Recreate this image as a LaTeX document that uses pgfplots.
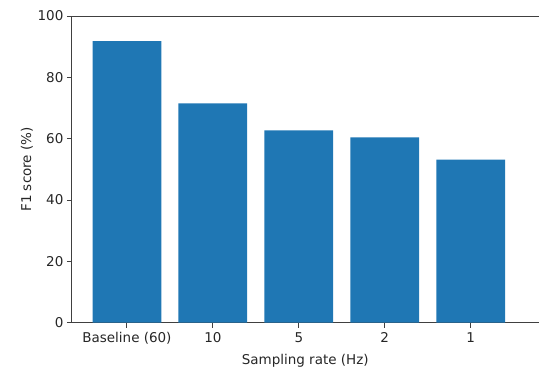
\documentclass[border=0pt]{standalone}
\usepackage{pgfplots}
\pgfplotsset{compat=1.18}
\usepackage{fontspec}
\setmainfont{DejaVu Sans}
\definecolor{mplblue}{HTML}{1F77B4}
\begin{document}
\begin{tikzpicture}
\begin{axis}[
  at={(0,0)}, anchor=south west,
  scale only axis, width=467pt, height=307pt,
  xmin=-0.64, xmax=4.79, ymin=0, ymax=100,
  axis x line*=bottom, axis y line*=left,
  axis line style={black!75, line width=0.9pt, -},
  xtick={0,1,2,3,4},
  xticklabels={Baseline (60),10,5,2,1},
  ytick={0,20,40,60,80,100},
  tick style={black!75, line width=0.9pt},
  tick align=outside, major tick length=5pt,
  tick label style={font=\fontsize{13.5}{15}\selectfont, text=black!85},
  xticklabel style={yshift=-1pt},
  /pgf/number format/assume math mode=true,
  xlabel={Sampling rate (Hz)}, ylabel={F1 score (\%)},
  label style={font=\fontsize{13.5}{15}\selectfont, text=black!85},
  xlabel style={yshift=-3pt},
  ylabel style={yshift=-2pt},
  clip=false,
]
\addplot[ybar, bar width=0.8, fill=mplblue, draw=none, bar shift=0pt]
  coordinates {(0,91.8) (1,71.5) (2,62.7) (3,60.4) (4,53.2)};
\draw[black!75, line width=0.9pt] (rel axis cs:0,1) -- (rel axis cs:1,1);
\end{axis}
\useasboundingbox (-72pt,-45pt) rectangle (467pt,323pt);
\end{tikzpicture}
\end{document}
